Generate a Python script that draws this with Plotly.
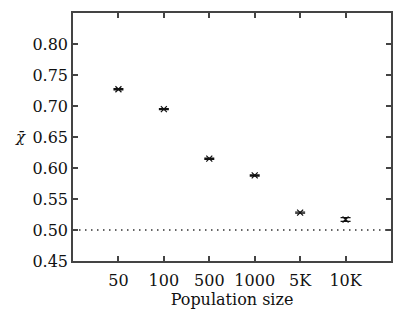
import plotly.graph_objects as go

categories = ["50", "100", "500", "1000", "5K", "10K"]
positions = [1, 2, 3, 4, 5, 6]
values = [0.727, 0.695, 0.615, 0.588, 0.528, 0.517]
errors = [0.001, 0.001, 0.001, 0.001, 0.001, 0.003]
baseline = 0.5
y_ticks = [0.45, 0.50, 0.55, 0.60, 0.65, 0.70, 0.75, 0.80]

font = dict(family="DejaVu Serif", size=16, color="#111")
frame = "#444"

fig = go.Figure()
fig.add_trace(go.Scatter(
    x=[0, 7], y=[baseline, baseline], mode="lines",
    line=dict(color="#333", width=1.3, dash="1.5px,4.5px"), showlegend=False,
))
fig.add_trace(go.Scatter(
    x=positions, y=values, mode="markers",
    marker=dict(symbol="x-thin", size=6, line=dict(width=1.2, color="#111"), color="#111"),
    error_y=dict(type="data", array=errors, visible=True, color="#111", thickness=1.2, width=5),
    showlegend=False,
))

axis_common = dict(
    showline=True, linecolor=frame, linewidth=1.5, mirror="ticks",
    ticks="inside", ticklen=5, tickcolor=frame, tickwidth=1.5,
    showgrid=False, zeroline=False, tickfont=font, automargin=False,
)
fig.update_xaxes(range=[0, 7], tickvals=positions, ticktext=categories, ticklabelstandoff=4,
                 title=dict(text="Population size", font=font, standoff=2), **axis_common)
fig.update_yaxes(range=[0.45, 0.85], tickvals=y_ticks,
                 ticktext=[f"{v:.2f}" for v in y_ticks], **axis_common)
fig.add_annotation(text="<i>χ̄</i>", xref="paper", yref="paper", x=-0.165, y=0.5,
                   xanchor="center", showarrow=False,
                   font=dict(family="DejaVu Serif", size=15, color="#111"))
fig.update_layout(
    width=404, height=318, margin=dict(l=73, r=13, t=13, b=57),
    plot_bgcolor="white", paper_bgcolor="white", font=font,
)
fig.write_html("out.html", config={"displayModeBar": False},
               post_script="document.body.style.margin='0';")
